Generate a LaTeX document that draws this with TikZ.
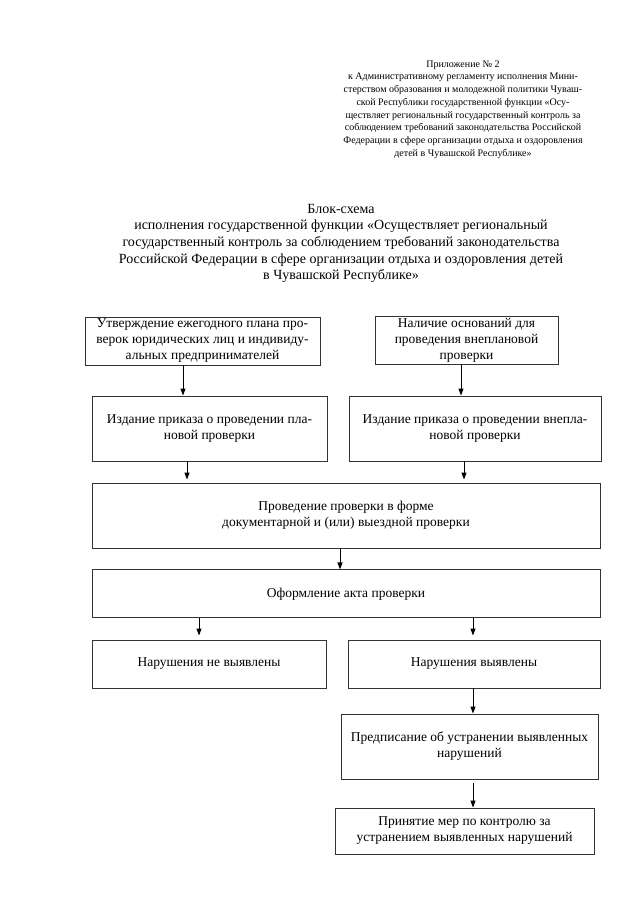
\documentclass[tikz,border=0pt]{standalone}
\usepackage{fontspec}
\setmainfont{Liberation Serif}
\usetikzlibrary{arrows.meta,positioning}

\begin{document}
\begin{tikzpicture}[x=1pt, y=-1pt,
  box/.style={rectangle, draw=black!80, line width=0.9pt, inner sep=0pt,
              align=center, font=\fontsize{13.5}{16}\selectfont},
  >={Triangle[length=7pt,width=5pt]}, line width=1pt,
]
  \useasboundingbox[fill=white] (0,0) rectangle (640,904);

  % header and title
  \node[align=center, font=\fontsize{10}{12.7}\selectfont] (header) at (463,109.5)
    {Приложение № 2\\
     к Административному регламенту исполнения Мини-\\
     стерством образования и молодежной политики Чуваш-\\
     ской Республики государственной функции «Осу-\\
     ществляет региональный государственный контроль за\\
     соблюдением требований законодательства Российской\\
     Федерации в сфере организации отдыха и оздоровления\\
     детей в Чувашской Республике»};
  \node[align=center, font=\fontsize{14}{16.7}\selectfont] (title) at (341,243.5)
    {Блок-схема\\
     исполнения государственной функции «Осуществляет региональный\\
     государственный контроль за соблюдением требований законодательства\\
     Российской Федерации в сфере организации отдыха и оздоровления детей\\
     в Чувашской Республике»};

  % boxes
  \node[box, minimum width=235pt, minimum height=48pt] (plan) at (202.5,341)
    {Утверждение ежегодного плана про-\\верок юридических лиц и индивиду-\\альных предпринимателей};
  \node[box, minimum width=183pt, minimum height=48pt] (osnov) at (466.5,340)
    {Наличие оснований для\\проведения внеплановой\\проверки};
  \node[box, minimum width=235pt, minimum height=65pt] (prikplan) at (209.5,428.5)
    {Издание приказа о проведении пла-\\новой проверки};
  \node[box, minimum width=252pt, minimum height=65pt] (prikvne) at (475,428.5)
    {Издание приказа о проведении внепла-\\новой проверки};
  \node[box, minimum width=508pt, minimum height=65pt] (proved) at (346,515.5)
    {Проведение проверки в форме\\документарной и (или) выездной проверки};
  \node[box, minimum width=508pt, minimum height=48pt, below=21pt of proved] (akt)
    {Оформление акта проверки};
  \node[box, minimum width=234pt, minimum height=48pt] (nenar) at (209,664)
    {Нарушения не выявлены};
  \node[box, minimum width=252pt, minimum height=48pt] (nar) at (474,664)
    {Нарушения выявлены};
  \node[box, minimum width=257pt, minimum height=65pt] (predp) at (469.5,746.5)
    {Предписание об устранении выявленных\\нарушений};
  \node[box, minimum width=259pt, minimum height=46pt] (mery) at (464.5,831)
    {Принятие мер по контролю за\\устранением выявленных нарушений};

  % arrows
  \coordinate (xa) at (183,0);
  \coordinate (xb) at (461,0);
  \coordinate (xc) at (187,0);
  \coordinate (xd) at (464,0);
  \coordinate (xe) at (340,0);
  \coordinate (xg) at (199,0);
  \coordinate (xh) at (473,0);
  \draw[->] (plan.south -| xa) -- (prikplan.north -| xa);
  \draw[->] (osnov.south -| xb) -- (prikvne.north -| xb);
  \draw[->, shorten >=3pt] (prikplan.south -| xc) -- (proved.north -| xc);
  \draw[->, shorten >=3pt] (prikvne.south -| xd) -- (proved.north -| xd);
  \draw[->] (proved.south -| xe) -- (akt.north -| xe);
  \draw[->, shorten >=4pt] (akt.south -| xg) -- (nenar.north -| xg);
  \draw[->, shorten >=4pt] (akt.south -| xh) -- (nar.north -| xh);
  \draw[->] (nar.south -| xh) -- (predp.north -| xh);
  \draw[->, shorten <=4pt] (predp.south -| xh) -- (mery.north -| xh);
\end{tikzpicture}
\end{document}
